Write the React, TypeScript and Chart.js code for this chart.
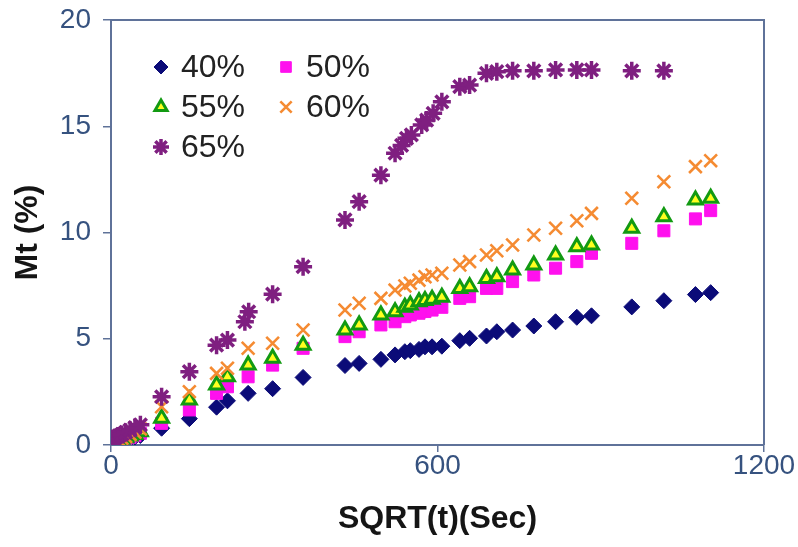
import React, { useEffect, useRef } from 'react';
import { Chart, registerables } from 'chart.js';
import { drawPoint } from 'chart.js/helpers';

Chart.register(...registerables);

const xTicks = [0, 600, 1200];
const yTicks = [0, 5, 10, 15, 20];
const seriesLabels = ['40%', '50%', '55%', '60%', '65%'];

const timeX = [3, 8, 14, 20, 27, 35, 44, 54, 93, 144, 194, 214, 252, 297, 353, 430, 456, 496, 522, 540, 550, 566, 577, 590, 608, 641, 659, 690, 709, 738, 777, 817, 856, 883, 957, 1016, 1074, 1102];
const time65 = [3, 8, 14, 20, 27, 35, 44, 54, 93, 144, 194, 214, 246, 253, 297, 353, 430, 456, 496, 522, 534, 543, 552, 571, 580, 592, 608, 641, 659, 690, 709, 738, 777, 817, 856, 883, 957, 1016];

const mt40 = [0.05, 0.1, 0.15, 0.2, 0.25, 0.3, 0.38, 0.45, 0.79, 1.24, 1.78, 2.08, 2.43, 2.65, 3.18, 3.74, 3.84, 4.03, 4.24, 4.39, 4.44, 4.5, 4.62, 4.62, 4.65, 4.91, 5.02, 5.13, 5.33, 5.41, 5.6, 5.8, 6.01, 6.08, 6.5, 6.79, 7.08, 7.17];
const mt50 = [0.05, 0.12, 0.18, 0.24, 0.3, 0.36, 0.44, 0.55, 1.02, 1.65, 2.43, 2.74, 3.21, 3.76, 4.55, 5.1, 5.33, 5.65, 5.8, 6.04, 6.12, 6.2, 6.28, 6.35, 6.48, 6.9, 6.98, 7.37, 7.37, 7.69, 8.0, 8.32, 8.63, 9.02, 9.49, 10.08, 10.64, 11.03];
const mt55 = [0.06, 0.14, 0.2, 0.27, 0.34, 0.42, 0.5, 0.62, 1.26, 2.12, 2.82, 3.21, 3.76, 4.08, 4.7, 5.41, 5.65, 6.12, 6.27, 6.48, 6.59, 6.74, 6.8, 6.86, 6.95, 7.37, 7.45, 7.84, 7.92, 8.24, 8.47, 8.94, 9.33, 9.41, 10.2, 10.74, 11.53, 11.61];
const mt60 = [0.08, 0.16, 0.24, 0.32, 0.4, 0.5, 0.6, 0.75, 1.8, 2.51, 3.37, 3.61, 4.55, 4.79, 5.41, 6.35, 6.67, 6.9, 7.29, 7.48, 7.61, 7.76, 7.92, 8.0, 8.08, 8.47, 8.63, 8.94, 9.14, 9.41, 9.88, 10.2, 10.55, 10.9, 11.61, 12.39, 13.1, 13.38];
const mt65 = [0.3, 0.35, 0.42, 0.5, 0.6, 0.7, 0.82, 0.95, 2.27, 3.45, 4.7, 4.94, 5.8, 6.27, 7.1, 8.39, 10.59, 11.45, 12.7, 13.73, 14.1, 14.43, 14.59, 15.06, 15.29, 15.61, 16.15, 16.86, 16.94, 17.49, 17.57, 17.61, 17.61, 17.65, 17.65, 17.65, 17.61, 17.61];

const FONT = '"Liberation Sans", Arial, Helvetica, sans-serif';
const AXIS = '#5f7299';
const TICK_COLOR = '#36527f';

const toPts = (xs: number[], ys: number[]) => xs.map((x, i) => ({ x, y: ys[i] }));

const legendPlugin = {
  id: 'inlineLegend',
  afterDraw(chart: any) {
    const ctx = chart.ctx;
    const area = chart.chartArea;
    ctx.save();
    chart.data.datasets.forEach((ds: any, i: number) => {
      const col = i % 2;
      const row = Math.floor(i / 2);
      const x = area.left + 50 + col * 125;
      const y = area.top + 47 + row * 40;
      ctx.fillStyle = ds.backgroundColor;
      ctx.strokeStyle = ds.borderColor;
      ctx.lineWidth = ds.borderWidth;
      drawPoint(ctx, { pointStyle: ds.pointStyle, radius: ds.pointRadius - 1, borderWidth: ds.borderWidth, rotation: 0 }, x, y);
      ctx.fillStyle = '#222222';
      ctx.font = `32px ${FONT}`;
      ctx.textAlign = 'left';
      ctx.textBaseline = 'middle';
      ctx.fillText(ds.label, x + 20, y + 1);
    });
    ctx.restore();
  },
};

const framePlugin = {
  id: 'frame',
  beforeDatasetsDraw(chart: any) {
    const { ctx, chartArea: a } = chart;
    ctx.save();
    ctx.strokeStyle = AXIS;
    ctx.lineWidth = 2;
    ctx.beginPath();
    ctx.moveTo(a.left, a.top);
    ctx.lineTo(a.right, a.top);
    ctx.lineTo(a.right, a.bottom);
    ctx.stroke();
    ctx.restore();
  },
};

export default function App() {
  const ref = useRef<HTMLCanvasElement>(null);
  useEffect(() => {
    if (!ref.current) return;
    const chart = new Chart(ref.current, {
      type: 'scatter',
      data: {
        datasets: [
          { label: seriesLabels[0], data: toPts(timeX, mt40), pointStyle: 'rectRot', pointRadius: 8, backgroundColor: '#0b0b78', borderColor: '#0b0b78', borderWidth: 1, order: 5 },
          { label: seriesLabels[1], data: toPts(timeX, mt50), pointStyle: 'rect', pointRadius: 8.5, backgroundColor: '#ff10ee', borderColor: '#ff10ee', borderWidth: 1, order: 4 },
          { label: seriesLabels[2], data: toPts(timeX, mt55), pointStyle: 'triangle', pointRadius: 8, backgroundColor: '#ffff20', borderColor: '#129a12', borderWidth: 3, order: 3 },
          { label: seriesLabels[3], data: toPts(timeX, mt60), pointStyle: 'crossRot', pointRadius: 9, backgroundColor: '#f58b32', borderColor: '#f58b32', borderWidth: 2.6, order: 2 },
          { label: seriesLabels[4], data: toPts(time65, mt65), pointStyle: 'star', pointRadius: 9, backgroundColor: '#7f1f80', borderColor: '#7f1f80', borderWidth: 3.5, order: 1 },
        ] as any,
      },
      options: {
        animation: false,
        responsive: true,
        maintainAspectRatio: false,
        layout: { padding: { top: 20, right: 34, left: 0, bottom: 0 } },
        plugins: { legend: { display: false }, tooltip: { enabled: false } },
        scales: {
          x: {
            type: 'linear',
            min: 0,
            max: 1200,
            afterBuildTicks: (s: any) => { s.ticks = xTicks.map((v) => ({ value: v })); },
            afterFit: (s: any) => { s.height = 102; s.paddingLeft = 0; s.paddingRight = 0; },
            grid: { display: true, drawOnChartArea: false, drawTicks: true, tickLength: 7, color: AXIS, lineWidth: 1.5 },
            border: { display: true, color: AXIS, width: 2 },
            ticks: { color: TICK_COLOR, font: { size: 28, family: FONT }, padding: -3, maxRotation: 0, autoSkip: false, callback: (v: any) => String(v) },
            title: { display: true, text: 'SQRT(t)(Sec)', color: '#151515', font: { size: 32, weight: 'bold', family: FONT }, padding: { top: 0, bottom: 9 } },
          },
          y: {
            type: 'linear',
            min: 0,
            max: 20,
            afterBuildTicks: (s: any) => { s.ticks = yTicks.map((v) => ({ value: v })); },
            afterFit: (s: any) => { s.width = 111; s.paddingTop = 0; s.paddingBottom = 0; },
            grid: { display: true, drawOnChartArea: false, drawTicks: true, tickLength: 8, color: AXIS, lineWidth: 1.5 },
            border: { display: true, color: AXIS, width: 2 },
            ticks: { color: TICK_COLOR, font: { size: 28, family: FONT }, padding: 12, autoSkip: false, callback: (v: any) => String(v) },
            title: { display: true, text: 'Mt (%)', color: '#151515', font: { size: 32, weight: 'bold', family: FONT }, padding: { top: 9, bottom: 0 } },
          },
        },
      } as any,
      plugins: [framePlugin, legendPlugin],
    });
    return () => chart.destroy();
  }, []);
  return (
    <div style={{ position: 'absolute', left: 0, top: 0, width: 798, height: 547, background: '#fff' }}>
      <canvas ref={ref} />
    </div>
  );
}
